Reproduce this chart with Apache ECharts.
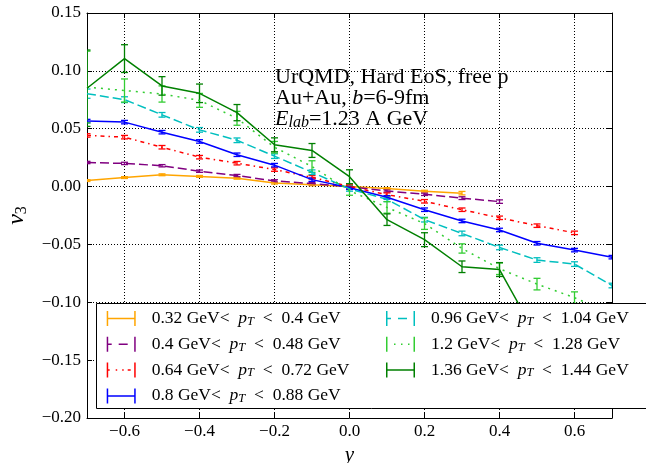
<!DOCTYPE html>
<html>
<head>
<meta charset="utf-8">
<script src="https://cdn.jsdelivr.net/npm/echarts@6/dist/echarts.min.js"></script>
<style>
  html, body { margin: 0; padding: 0; background: #fff; }
  #chart { width: 646px; height: 463px; }
</style>
</head>
<body>
<div id="chart"></div>
<script>
// rapidity bins (x) and tick positions
const rapidity = [-0.7, -0.6, -0.5, -0.4, -0.3, -0.2, -0.1, 0.0, 0.1, 0.2, 0.3, 0.4, 0.5, 0.6, 0.7]
const xTicks = [-0.6, -0.4, -0.2, 0.0, 0.2, 0.4, 0.6]

// pT bins (GeV)
const ptLow = ['0.32', '0.4', '0.64', '0.8', '0.96', '1.2', '1.36']
const ptHigh = ['0.4', '0.48', '0.72', '0.88', '1.04', '1.28', '1.44']

// v3 values, one array per pT bin (start at y = -0.7)
const v3Pt032 = [0.0052, 0.0078, 0.0102, 0.0088, 0.0072, 0.0030, 0.0015, 0.0000, -0.0017, -0.0040, -0.0057]
const v3Pt040 = [0.0208, 0.0200, 0.0180, 0.0133, 0.0095, 0.0049, 0.0026, 0.0000, -0.0038, -0.0067, -0.0100, -0.0130]
const v3Pt064 = [0.0442, 0.0427, 0.0340, 0.0254, 0.0202, 0.0147, 0.0080, 0.0000, -0.0070, -0.0127, -0.0200, -0.0270, -0.0338, -0.0400]
const v3Pt080 = [0.0566, 0.0557, 0.0470, 0.0390, 0.0275, 0.0185, 0.0060, -0.0010, -0.0093, -0.0200, -0.0297, -0.0375, -0.0490, -0.0549, -0.0610]
const v3Pt096 = [0.0803, 0.0751, 0.0620, 0.0490, 0.0400, 0.0263, 0.0124, -0.0020, -0.0110, -0.0286, -0.0405, -0.0526, -0.0635, -0.0670, -0.0855]
const v3Pt120 = [0.0860, 0.0830, 0.0800, 0.0745, 0.0590, 0.0340, 0.0173, -0.0035, -0.0180, -0.0320, -0.0535, -0.0710, -0.0843, -0.0960, -0.1100]
const v3Pt136 = [0.0850, 0.1106, 0.0870, 0.0806, 0.0639, 0.0361, 0.0312, 0.0085, -0.0286, -0.0459, -0.0693, -0.0717, -0.1300]

// statistical errors
const errPt032 = [0.0008, 0.0008, 0.0008, 0.0008, 0.0008, 0.0008, 0.0008, 0.0008, 0.0008, 0.0008, 0.0015]
const errPt040 = [0.0010, 0.0010, 0.0010, 0.0010, 0.0010, 0.0010, 0.0010, 0.0010, 0.0010, 0.0010, 0.0012, 0.0015]
const errPt064 = [0.0015, 0.0015, 0.0015, 0.0015, 0.0015, 0.0015, 0.0015, 0.0015, 0.0015, 0.0015, 0.0015, 0.0015, 0.0015, 0.0015]
const errPt080 = [0.0015, 0.0015, 0.0015, 0.0015, 0.0015, 0.0015, 0.0015, 0.0015, 0.0015, 0.0015, 0.0015, 0.0015, 0.0015, 0.0015, 0.0015]
const errPt096 = [0.0040, 0.0025, 0.0020, 0.0020, 0.0020, 0.0020, 0.0020, 0.0020, 0.0020, 0.0020, 0.0020, 0.0020, 0.0020, 0.0020, 0.0020]
const errPt120 = [0.0310, 0.0100, 0.0070, 0.0060, 0.0060, 0.0050, 0.0050, 0.0040, 0.0050, 0.0050, 0.0040, 0.0050, 0.0050, 0.0050, 0.0060]
const errPt136 = [0.0330, 0.0120, 0.0080, 0.0080, 0.0070, 0.0060, 0.0060, 0.0060, 0.0050, 0.0060, 0.0050, 0.0060, 0.0070]

const v3Sets = [v3Pt032, v3Pt040, v3Pt064, v3Pt080, v3Pt096, v3Pt120, v3Pt136]
const errSets = [errPt032, errPt040, errPt064, errPt080, errPt096, errPt120, errPt136]

// styles
const colors = ['#FFA500', '#800080', '#FF0000', '#0000FF', '#00BFBF', '#32CD32', '#008000']
const dashes = ['solid', [9, 4], [4, 4, 1.5, 4], 'solid', [9, 4], [2, 5], 'solid']
// legend icons: errorbar handle drawn as filled bars (29 x 15)
const capL = 'M0,0h1.5v15h-1.5z'
const capR = 'M27.5,0h1.5v15h-1.5z'
const seg = (a, b) => 'M' + a + ',6.75h' + (b - a) + 'v1.5h' + (a - b) + 'z'
const iconSolid = 'path://' + capL + capR + seg(0, 29)
const iconDash = 'path://' + capL + capR + seg(0, 5) + seg(12, 21)
const iconDashDot = 'path://' + capL + capR + seg(0, 3) + seg(9, 10.5) + seg(15.5, 17) + seg(21, 24)
const iconDot = 'path://' + capL + capR + seg(0, 1.5) + seg(8, 9.5) + seg(15, 16.5) + seg(22, 23.5)
const icons = [iconSolid, iconDash, iconDashDot, iconSolid, iconDash, iconDot, iconSolid]

const FONT = 'Liberation Serif'
const names = ptLow.map((lo, i) => lo + ' GeV< pT < ' + ptHigh[i] + ' GeV')
const minus = s => s.replace('-', '\u2212')

function renderErr (params, api) {
  const x = api.value(0)
  const y = api.value(1)
  const e = api.value(2)
  const top = api.coord([x, y + e])
  const bot = api.coord([x, y - e])
  const hw = 3.5
  const style = { stroke: api.visual('color'), lineWidth: 1.3 }
  const cs = params.coordSys
  return {
    type: 'group',
    clipPath: { type: 'rect', shape: { x: cs.x, y: cs.y, width: cs.width, height: cs.height } },
    children: [
      { type: 'line', shape: { x1: top[0], y1: top[1], x2: bot[0], y2: bot[1] }, style },
      { type: 'line', shape: { x1: top[0] - hw, y1: top[1], x2: top[0] + hw, y2: top[1] }, style },
      { type: 'line', shape: { x1: bot[0] - hw, y1: bot[1], x2: bot[0] + hw, y2: bot[1] }, style }
    ]
  }
}

const series = []
v3Sets.forEach((vals, i) => {
  series.push({
    name: names[i],
    type: 'line',
    data: vals.map((v, k) => [rapidity[k], v]),
    symbol: 'none',
    clip: true,
    color: colors[i],
    lineStyle: { color: colors[i], width: 1.5, type: dashes[i] },
    animation: false
  })
  series.push({
    name: names[i],
    type: 'custom',
    data: vals.map((v, k) => [rapidity[k], v, errSets[i][k]]),
    encode: { x: 0, y: 1 },
    renderItem: renderErr,
    color: colors[i],
    itemStyle: { color: colors[i] },
    animation: false
  })
})

const legendText = {
  fontFamily: FONT,
  fontSize: 17.5,
  color: '#000',
  lineHeight: 20,
  padding: [0, 0, 0, 11],
  rich: {
    i: { fontFamily: FONT, fontSize: 17.5, fontStyle: 'italic', lineHeight: 20 },
    s: { fontFamily: FONT, fontSize: 12.5, fontStyle: 'italic', lineHeight: 10, padding: [8, 0, 2, 0] }
  }
}
const legendFormatter = name => {
  const i = names.indexOf(name)
  return ptLow[i] + ' GeV<  {i|p}{s|T}  <  ' + ptHigh[i] + ' GeV'
}
const legendBase = {
  orient: 'vertical',
  padding: 0,
  itemWidth: 29,
  itemHeight: 15,
  itemGap: 2.8,
  z: 20,
  selectedMode: false,
  itemStyle: { borderWidth: 0 },
  textStyle: legendText,
  formatter: legendFormatter
}

const axisLineStyle = { color: '#000', width: 1 }

const chart = echarts.init(document.getElementById('chart'), null, { renderer: 'canvas' })
chart.setOption({
  animation: false,
  backgroundColor: '#fff',
  grid: { left: 87, right: 34, top: 13, bottom: 45, outerBoundsMode: 'none' },
  xAxis: [
    {
      type: 'value',
      min: -0.7,
      max: 0.7,
      position: 'bottom',
      name: 'y',
      nameLocation: 'middle',
      nameGap: 22,
      nameTextStyle: { fontFamily: FONT, fontSize: 21, fontStyle: 'italic', color: '#000' },
      axisLine: { onZero: false, lineStyle: axisLineStyle },
      axisTick: { inside: true, length: 5, customValues: xTicks, lineStyle: axisLineStyle },
      axisLabel: {
        customValues: xTicks,
        margin: 5,
        fontFamily: FONT,
        fontSize: 17,
        color: '#000',
        formatter: v => minus(Math.abs(v) < 1e-9 ? '0.0' : v.toFixed(1))
      },
      splitLine: { show: true, lineStyle: { color: '#000', type: [1, 2], width: 1 } }
    },
    {
      type: 'value',
      min: -0.7,
      max: 0.7,
      position: 'top',
      axisLine: { onZero: false, lineStyle: axisLineStyle },
      axisTick: { inside: true, length: 5, customValues: xTicks, lineStyle: axisLineStyle },
      axisLabel: { show: false },
      splitLine: { show: false }
    }
  ],
  yAxis: [
    {
      type: 'value',
      min: -0.2,
      max: 0.15,
      interval: 0.05,
      position: 'left',
      name: '{i|v}{s|3}',
      nameLocation: 'middle',
      nameGap: 58,
      nameRotate: 90,
      nameTextStyle: {
        color: '#000',
        rich: {
          i: { fontFamily: FONT, fontSize: 24, fontStyle: 'italic', lineHeight: 24 },
          s: { fontFamily: FONT, fontSize: 16, lineHeight: 14, padding: [10, 0, 0, 0] }
        }
      },
      axisLine: { onZero: false, lineStyle: axisLineStyle },
      axisTick: { inside: true, length: 5, lineStyle: axisLineStyle },
      axisLabel: {
        margin: 6,
        fontFamily: FONT,
        fontSize: 17,
        color: '#000',
        formatter: v => minus(Math.abs(v) < 1e-9 ? '0.00' : v.toFixed(2))
      },
      splitLine: { show: true, lineStyle: { color: '#000', type: [1, 2], width: 1 } }
    },
    {
      type: 'value',
      min: -0.2,
      max: 0.15,
      interval: 0.05,
      position: 'right',
      axisLine: { onZero: false, lineStyle: axisLineStyle },
      axisTick: { inside: true, length: 5, lineStyle: axisLineStyle },
      axisLabel: { show: false },
      splitLine: { show: false }
    }
  ],
  legend: [
    Object.assign({}, legendBase, {
      left: 106.7,
      top: 307,
      data: names.slice(0, 4).map((n, k) => ({ name: n, icon: icons[k] }))
    }),
    Object.assign({}, legendBase, {
      left: 386,
      top: 307,
      data: names.slice(4).map((n, k) => ({ name: n, icon: icons[k + 4] }))
    })
  ],
  graphic: [
    {
      type: 'rect',
      z: 10,
      shape: { x: 96.5, y: 303.5, width: 600, height: 105 },
      style: { fill: '#fff', stroke: '#000', lineWidth: 1 }
    },
    {
      type: 'text',
      z: 10,
      left: 275,
      top: 66,
      style: {
        text: 'UrQMD, Hard EoS, free p\nAu+Au, {i|b}=6-9fm\n{i|E}{s|lab}=1.23 A GeV',
        fontFamily: FONT,
        fontSize: 22,
        lineHeight: 21,
        fill: '#000',
        rich: {
          i: { fontFamily: FONT, fontSize: 22, fontStyle: 'italic', lineHeight: 21 },
          s: { fontFamily: FONT, fontSize: 16, fontStyle: 'italic', lineHeight: 13, padding: [8, 0, 0, 0] }
        }
      }
    }
  ],
  series: series
})
</script>
</body>
</html>
